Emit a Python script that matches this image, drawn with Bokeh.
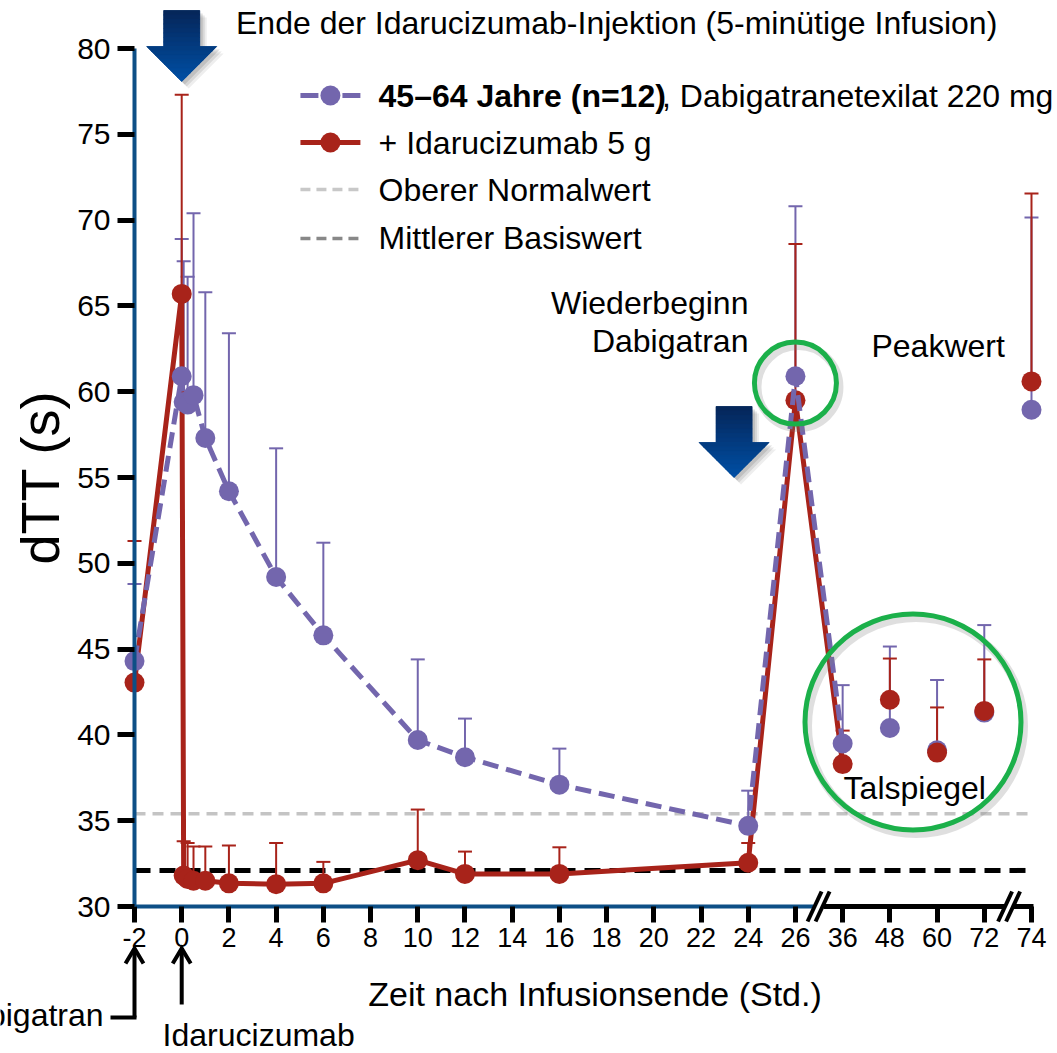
import numpy as np
from bokeh.plotting import figure
from bokeh.models import Range1d, LinearAxis, FixedTicker
from bokeh.core.properties import value
from bokeh.embed import file_html
from bokeh.resources import INLINE

# dTT (s) after dabigatran etexilate 220 mg, age group 45-64 years (n=12)
hours = [-2, 0, 0.083, 0.25, 0.5, 1, 2, 4, 6, 10, 12, 16, 24, 26, 36, 48, 60, 72, 74]
dtt_dabi = [44.3, 60.9, 59.4, 59.25, 59.8, 57.3, 54.2, 49.2, 45.8, 39.7, 38.7, 37.1,
            34.7, 60.9, 39.5, 40.4, 39.1, 41.3, 58.95]
dtt_dabi_upper = [48.8, 68.9, 67.6, 66.7, 70.4, 65.8, 63.4, 56.7, 51.2, 44.4, 40.95, 39.2,
                  36.75, 70.8, 42.9, 45.15, 43.2, 46.4, 70.15]
# ... plus idarucizumab 5 g
dtt_ida = [43.05, 65.7, 31.8, 31.6, 31.5, 31.5, 31.35, 31.3, 31.35, 32.7, 31.9, 31.9,
           32.55, 59.5, 38.3, 42.05, 38.97, 41.4, 60.6]
dtt_ida_upper = [51.3, 77.3, 33.8, 33.7, 33.5, 33.5, 33.55, 33.7, 32.6, 35.65, 33.2, 33.45,
                 33.7, 68.6, 40.25, 44.45, 41.6, 44.4, 71.55]

upper_normal = 35.4      # Oberer Normalwert
baseline_mean = 32.1     # Mittlerer Basiswert

linear_ticks = list(range(-2, 27, 2))
break_hours = [36, 48, 60, 72, 74]   # shown after the axis break, equally spaced
last_connected = 36                  # lines run up to 36 h

yticks = list(range(30, 81, 5))

PURPLE = "#7366ad"
RED = "#a8231a"
AXIS_BLUE = "#0d4f86"
GREEN = "#1bb04a"
FONT = "Liberation Sans"
TEXT_SIZE = "32px"


def to_axis(h):
    """Hour -> position on the broken time axis."""
    if h <= 26:
        return h
    return 26 + 2 * (break_hours.index(h) + 1)


x_pos = [to_axis(h) for h in hours]
tick_pos = linear_ticks + [to_axis(h) for h in break_hours]
tick_labels = {t: str(t) for t in linear_ticks}
tick_labels.update({to_axis(h): str(h) for h in break_hours})

# plot ranges (the frame fills the whole canvas, axes sit at fixed data locations)
W, H = 1057, 1053
X0 = -2 - 134 / 23.605
X1 = X0 + W / 23.605
Y0 = 30 - 147 / 17.16
Y1 = Y0 + H / 17.16
sx = W / (X1 - X0)
sy = H / (Y1 - Y0)


def dx(px):
    return px / sx


def dy(px):
    return px / sy


p = figure(width=W, height=H, x_range=Range1d(X0, X1), y_range=Range1d(Y0, Y1),
           output_backend="svg", toolbar_location=None, min_border=0,
           x_axis_type=None, y_axis_type=None)
p.outline_line_color = None
p.background_fill_color = "white"
p.border_fill_color = "white"

# ---- axes ----
yaxis = LinearAxis(fixed_location=-2, ticker=FixedTicker(ticks=yticks), bounds=(30, 80))
yaxis.axis_line_color = AXIS_BLUE
yaxis.axis_line_width = 4
yaxis.major_tick_line_color = "black"
yaxis.major_tick_line_width = 5
yaxis.major_tick_out = 17
yaxis.major_tick_in = 0
yaxis.minor_tick_line_color = None
yaxis.major_label_text_font = FONT
yaxis.major_label_text_font_size = "30px"
yaxis.major_label_text_color = "black"
yaxis.major_label_standoff = 7
yaxis.axis_label = "dTT (s)"
yaxis.axis_label_text_font = FONT
yaxis.axis_label_text_font_style = "normal"
yaxis.axis_label_text_font_size = "54px"
yaxis.axis_label_text_color = "black"
yaxis.axis_label_standoff = 4
p.add_layout(yaxis, "left")

xaxis = LinearAxis(fixed_location=30, ticker=FixedTicker(ticks=tick_pos),
                   major_label_overrides=tick_labels, bounds=(-2, 37))
xaxis.axis_line_color = None
xaxis.major_tick_line_color = "black"
xaxis.major_tick_line_width = 5
xaxis.major_tick_out = 16
xaxis.major_tick_in = 0
xaxis.minor_tick_line_color = None
xaxis.major_label_text_font = FONT
xaxis.major_label_text_font_size = "27px"
xaxis.major_label_text_color = "black"
xaxis.major_label_standoff = 5
xaxis.axis_label = "Zeit nach Infusionsende (Std.)"
xaxis.axis_label_text_font = FONT
xaxis.axis_label_text_font_style = "normal"
xaxis.axis_label_text_font_size = "34px"
xaxis.axis_label_text_color = "black"
xaxis.axis_label_standoff = 25
p.add_layout(xaxis, "below")

# broken x-axis line: blue part, black part after the break, "//" marks
brk1 = 26.98
brk2 = to_axis(72) + 1.05
p.segment(x0=[-2], y0=[30], x1=[brk1 - dx(5)], y1=[30], line_color=AXIS_BLUE, line_width=4)
p.segment(x0=[brk1 + dx(5)], y0=[30], x1=[to_axis(74) + dx(2)], y1=[30],
          line_color="black", line_width=5)
for bx in (brk1, brk2):
    p.segment(x0=[bx - dx(7)], y0=[30 - dy(14)], x1=[bx + dx(7)], y1=[30 + dy(14)],
              line_color="white", line_width=9)
    for off in (-4, 4):
        p.segment(x0=[bx + dx(off - 7)], y0=[30 - dy(15)], x1=[bx + dx(off + 7)],
                  y1=[30 + dy(15)], line_color="black", line_width=4)

# ---- reference lines ----
p.segment(x0=[-2], y0=[upper_normal], x1=[to_axis(74) + dx(2)], y1=[upper_normal],
          line_color="#c4c4c4", line_width=3.5, line_dash="11 7")
p.segment(x0=[-2], y0=[baseline_mean], x1=[to_axis(74)], y1=[baseline_mean],
          line_color="black", line_width=5, line_dash="16 9")

# ---- error bars (upper SD) ----
for vals, ups, col in ((dtt_dabi, dtt_dabi_upper, PURPLE), (dtt_ida, dtt_ida_upper, RED)):
    p.segment(x0=x_pos, y0=vals, x1=x_pos, y1=ups, line_color=col, line_width=2)
    p.scatter(x=x_pos, y=ups, marker="dash", size=14, line_color=col, line_width=2)

n_conn = hours.index(last_connected) + 1

# ---- series ----
p.line(x_pos[:n_conn], dtt_ida[:n_conn], line_color=RED, line_width=5, line_join="round")
p.scatter(x_pos[:n_conn], dtt_ida[:n_conn], size=20, fill_color=RED, line_color=None)
p.line(x_pos[:n_conn], dtt_dabi[:n_conn], line_color=PURPLE, line_width=5,
       line_dash="16 8")
p.scatter(x_pos, dtt_dabi, size=20, fill_color=PURPLE, line_color=None)
p.scatter(x_pos[n_conn:], dtt_ida[n_conn:], size=20, fill_color=RED, line_color=None)

# ---- highlight rings ----
rings = [(to_axis(26), 60.5, 82), (30.98, 40.75, 216)]
for rx, ry, rs in rings:
    p.scatter(x=[rx + dx(3)], y=[ry - dy(4)], size=rs, marker="circle", fill_color=None,
              line_color="#808080", line_alpha=0.25, line_width=8)
    p.scatter(x=[rx], y=[ry], size=rs, marker="circle", fill_color=None,
              line_color=GREEN, line_width=5)


# ---- block arrows with a vertical gradient ----
def block_arrow(x_tip, y_tip, shaft_hw=18, head_hw=35, head_len=35, total=71, nb=8):
    d_s = total - head_len

    def hw(d):
        return shaft_hw if d < d_s else head_hw * (total - d) / head_len

    def pt(u, d):
        return x_tip + dx(u), y_tip + dy(total - d)

    outline = [(-shaft_hw, 0), (shaft_hw, 0), (shaft_hw, d_s), (head_hw, d_s), (0, total),
               (-head_hw, d_s), (-shaft_hw, d_s)]
    # soft shadow
    for k, a in ((7, 0.10), (5, 0.14), (3, 0.18)):
        xs, ys = zip(*[pt(u + k, d + k) for u, d in outline])
        p.patch(list(xs), list(ys), fill_color="#555555", fill_alpha=a, line_color=None)
    xs, ys = zip(*[pt(u, d) for u, d in outline])
    p.patch(list(xs), list(ys), fill_color="#033b80", line_color=None)

    edges = list(np.linspace(0, d_s, nb + 1)) + list(np.linspace(d_s, total, nb + 1))[1:]
    c0, c1 = np.array([6, 38, 88]), np.array([0, 80, 166])
    bxs, bys, cols = [], [], []
    for i in range(len(edges) - 1):
        a, b = edges[i], edges[i + 1]
        if b <= d_s:
            poly = [(-hw(a), a), (hw(a), a), (hw(a), b), (-hw(a), b)]
        else:
            poly = [(-hw(a), a), (hw(a), a), (hw(b), b), (-hw(b), b)]
        px_, py_ = zip(*[pt(u, d) for u, d in poly])
        bxs.append(list(px_))
        bys.append(list(py_))
        t = (a + b) / 2 / total
        c = (c0 + (c1 - c0) * t).astype(int)
        cols.append("#%02x%02x%02x" % tuple(c))
    p.patches(bxs, bys, fill_color=cols, line_color=cols, line_width=0.8)


block_arrow(0, 80 - dy(33))          # end of idarucizumab infusion
block_arrow(23.4, 55.0)              # dabigatran restart

# ---- texts ----
def txt(x, y, s, size=TEXT_SIZE, align="left", style="normal"):
    p.text(x=[x], y=[y], text=[s], text_font=value(FONT), text_font_size=size,
           text_align=align, text_baseline="middle", text_color="black",
           text_font_style=style)


txt(2.3, 81.5, "Ende der Idarucizumab-Injektion (5-minütige Infusion)")

# legend
leg_x0, leg_x1, leg_tx = 5.03, 7.57, 8.34
rows = [77.26, 74.52, 71.78, 68.93]
mid = (leg_x0 + leg_x1) / 2
p.segment(x0=[leg_x0, mid + dx(12)], y0=[rows[0]] * 2, x1=[mid - dx(12), leg_x1],
          y1=[rows[0]] * 2, line_color=PURPLE, line_width=5)
p.scatter([mid], [rows[0]], size=20, fill_color=PURPLE, line_color=None)
p.segment(x0=[leg_x0], y0=[rows[1]], x1=[leg_x1], y1=[rows[1]], line_color=RED, line_width=5)
p.scatter([mid], [rows[1]], size=20, fill_color=RED, line_color=None)
p.segment(x0=[leg_x0], y0=[rows[2]], x1=[leg_x1], y1=[rows[2]], line_color="#c8c8c8",
          line_width=3.5, line_dash="10 6")
p.segment(x0=[leg_x0], y0=[rows[3]], x1=[leg_x1], y1=[rows[3]], line_color="#888888",
          line_width=3.5, line_dash="10 6")
txt(leg_tx, rows[0], "45–64 Jahre (n=12)", style="bold")
txt(20.35, rows[0], ", Dabigatranetexilat 220 mg")
txt(leg_tx, rows[1], "+ Idarucizumab 5 g")
txt(leg_tx, rows[2], "Oberer Normalwert")
txt(leg_tx, rows[3], "Mittlerer Basiswert")

txt(24.01, 65.14, "Wiederbeginn", align="right")
txt(24.01, 62.98, "Dabigatran", align="right")
txt(29.22, 62.69, "Peakwert")
txt(28.04, 36.93, "Talspiegel")

# dosing markers under the time axis
y_tip = 30 - dy(42)
for ax_x, y_bot in ((-2, 30 - dy(111)), (0, 30 - dy(98))):
    p.segment(x0=[ax_x], y0=[y_tip - dy(2)], x1=[ax_x], y1=[y_bot], line_color="black",
              line_width=4)
    p.multi_line(xs=[[ax_x - dx(9), ax_x, ax_x + dx(9)]],
                 ys=[[y_tip - dy(15), y_tip, y_tip - dy(15)]],
                 line_color="black", line_width=4, line_join="miter")
p.segment(x0=[-2 + dx(2)], y0=[30 - dy(111)], x1=[-2 - dx(24)], y1=[30 - dy(111)],
          line_color="black", line_width=4)
txt(-3.31, 30 - dy(108), "Dabigatran", align="right")
txt(-0.81, 30 - dy(128), "Idarucizumab")

open("out.html", "w").write(file_html(p, INLINE))
